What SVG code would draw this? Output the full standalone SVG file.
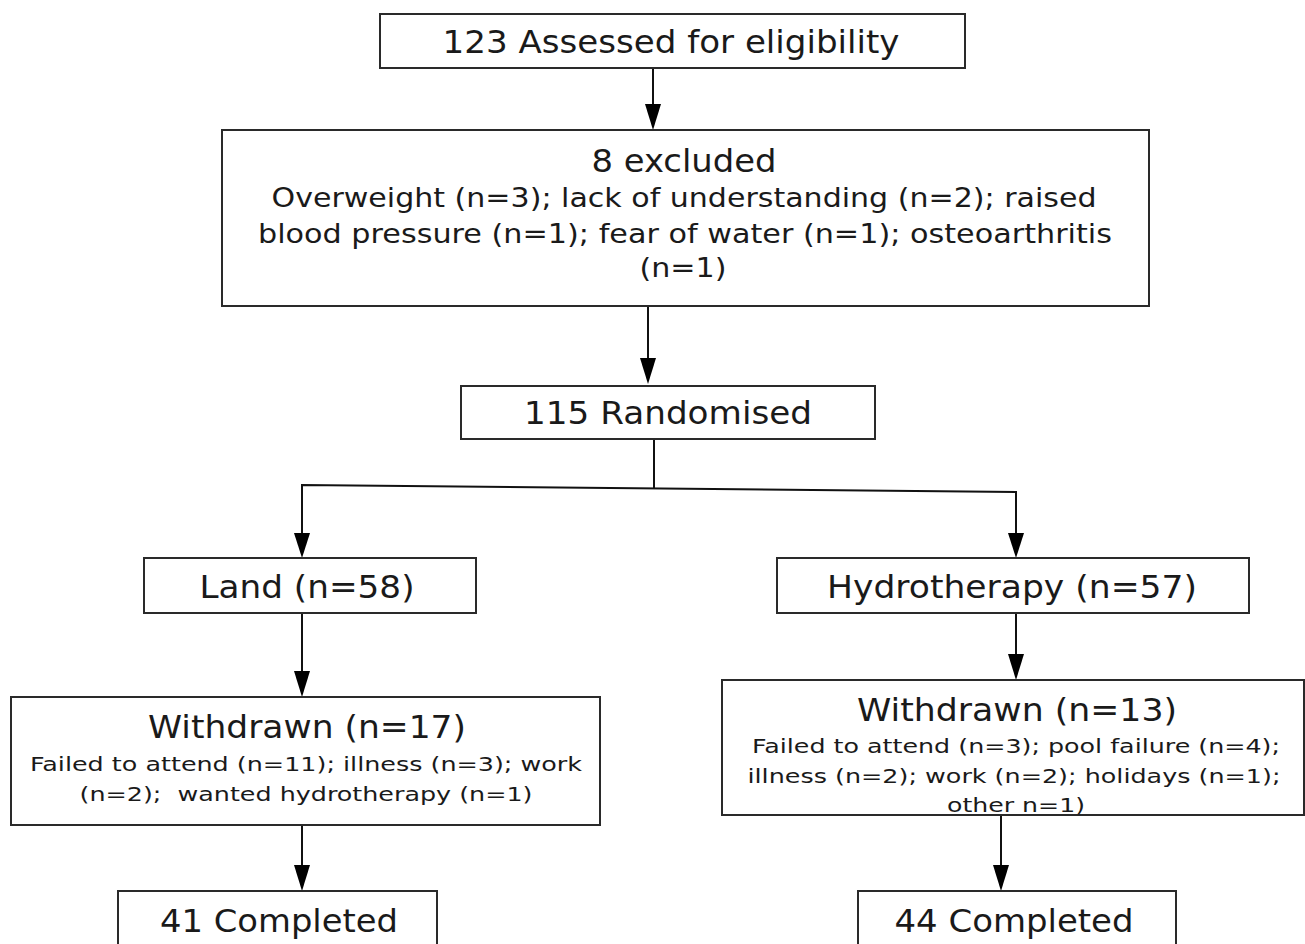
<svg xmlns="http://www.w3.org/2000/svg" width="1305" height="944" viewBox="0 0 1305 944">
<style>
.box{fill:#fff;stroke:#2a2a2a;stroke-width:2}
.h{font-family:"DejaVu Sans","Verdana",sans-serif;font-size:32px;fill:#1a1a1a;text-anchor:middle}
.m{font-family:"DejaVu Sans","Verdana",sans-serif;font-size:27px;fill:#1a1a1a;text-anchor:middle}
.s{font-family:"DejaVu Sans","Tahoma",sans-serif;font-size:20px;fill:#1a1a1a;text-anchor:middle}
.c{fill:none;stroke:#111;stroke-width:2}
</style>
<defs>
<marker id="ah" markerWidth="16" markerHeight="26" refX="8" refY="26" orient="auto-start-reverse" markerUnits="userSpaceOnUse" viewBox="0 0 16 26">
<path d="M0,0 L16,0 L8,26 Z" fill="#000" transform="rotate(0)"/>
</marker>
</defs>
<rect width="1305" height="944" fill="#fff"/>
<g id="connectors">
<path class="c" d="M653,68 V104"/><path d="M645,104 H661 L653,130 Z"/>
<path class="c" d="M648,306 V358"/><path d="M640,358 H656 L648,384 Z"/>
<path class="c" d="M654,439 V488"/>
<path class="c" d="M302,535 V485 L1016,492 V535"/>
<path d="M294,533 H310 L302,558 Z"/>
<path d="M1008,533 H1024 L1016,558 Z"/>
<path class="c" d="M302,613 V672"/><path d="M294,671 H310 L302,697 Z"/>
<path class="c" d="M1016,613 V655"/><path d="M1008,654 H1024 L1016,680 Z"/>
<path class="c" d="M302,825 V866"/><path d="M294,865 H310 L302,891 Z"/>
<path class="c" d="M1001,815 V866"/><path d="M993,865 H1009 L1001,891 Z"/>
</g>
<g id="assessed">
<rect class="box" x="380" y="14" width="585" height="54"/>
<text class="h" x="671" y="53" textLength="457" lengthAdjust="spacingAndGlyphs">123 Assessed for eligibility</text>
</g>
<g id="excluded">
<rect class="box" x="222" y="130" width="927" height="176"/>
<text class="h" x="684" y="172" textLength="185" lengthAdjust="spacingAndGlyphs">8 excluded</text>
<text class="m" x="684" y="207" textLength="825" lengthAdjust="spacingAndGlyphs">Overweight (n=3); lack of understanding (n=2); raised</text>
<text class="m" x="685" y="243" textLength="854" lengthAdjust="spacingAndGlyphs">blood pressure (n=1); fear of water (n=1); osteoarthritis</text>
<text class="m" x="683" y="277" textLength="87" lengthAdjust="spacingAndGlyphs">(n=1)</text>
</g>
<g id="randomised">
<rect class="box" x="461" y="386" width="414" height="53"/>
<text class="h" x="668" y="424" textLength="288" lengthAdjust="spacingAndGlyphs">115 Randomised</text>
</g>
<g id="land">
<rect class="box" x="144" y="558" width="332" height="55"/>
<text class="h" x="307" y="598" textLength="215" lengthAdjust="spacingAndGlyphs">Land (n=58)</text>
</g>
<g id="hydro">
<rect class="box" x="777" y="558" width="472" height="55"/>
<text class="h" x="1012" y="598" textLength="370" lengthAdjust="spacingAndGlyphs">Hydrotherapy (n=57)</text>
</g>
<g id="withdrawn-land">
<rect class="box" x="11" y="697" width="589" height="128"/>
<text class="h" x="307" y="738" textLength="318" lengthAdjust="spacingAndGlyphs">Withdrawn (n=17)</text>
<text class="s" x="306" y="771" textLength="552" lengthAdjust="spacingAndGlyphs">Failed to attend (n=11); illness (n=3); work</text>
<text class="s" x="306" y="801" textLength="453" lengthAdjust="spacingAndGlyphs" xml:space="preserve">(n=2);  wanted hydrotherapy (n=1)</text>
</g>
<g id="withdrawn-hydro">
<rect class="box" x="722" y="680" width="582" height="135"/>
<text class="h" x="1017" y="721" textLength="320" lengthAdjust="spacingAndGlyphs">Withdrawn (n=13)</text>
<text class="s" x="1016" y="753" textLength="528" lengthAdjust="spacingAndGlyphs">Failed to attend (n=3); pool failure (n=4);</text>
<text class="s" x="1014" y="783" textLength="533" lengthAdjust="spacingAndGlyphs">illness (n=2); work (n=2); holidays (n=1);</text>
<text class="s" x="1016" y="812" textLength="138" lengthAdjust="spacingAndGlyphs">other n=1)</text>
</g>
<g id="completed-land">
<rect class="box" x="118" y="891" width="319" height="70"/>
<text class="h" x="279" y="932" textLength="238" lengthAdjust="spacingAndGlyphs">41 Completed</text>
</g>
<g id="completed-hydro">
<rect class="box" x="858" y="891" width="318" height="70"/>
<text class="h" x="1014" y="932" textLength="239" lengthAdjust="spacingAndGlyphs">44 Completed</text>
</g>
</svg>
